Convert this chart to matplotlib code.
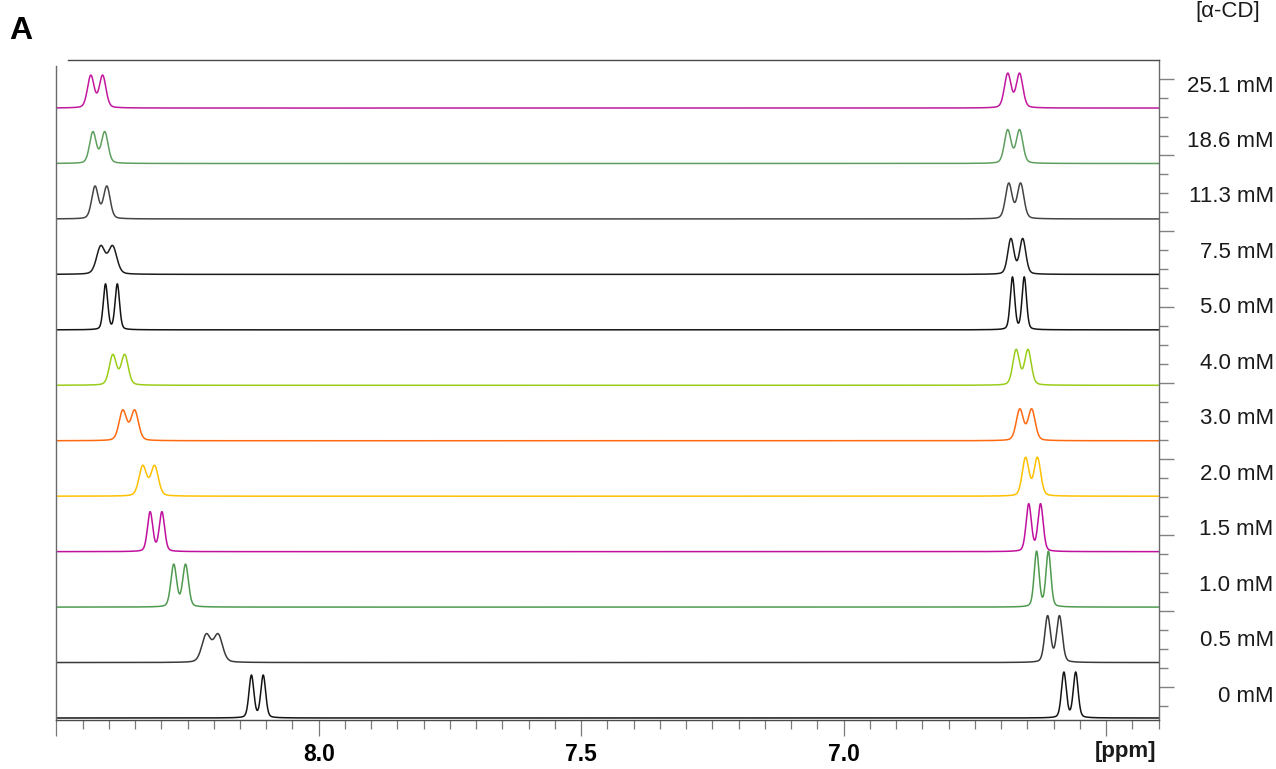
import numpy as np
import matplotlib
matplotlib.use("Agg")
import matplotlib.pyplot as plt
from matplotlib.ticker import FixedLocator

plt.rcParams['font.family'] = ['Liberation Sans', 'DejaVu Sans']

# ---- data (bottom spectrum first) ----
concentrations = ['0 mM', '0.5 mM', '1.0 mM', '1.5 mM', '2.0 mM', '3.0 mM',
                  '4.0 mM', '5.0 mM', '7.5 mM', '11.3 mM', '18.6 mM', '25.1 mM']
colors = ['#141414', '#3a3a3a', '#4f9a4f', '#c0109e', '#ffc000', '#ff6a10',
          '#9acd1a', '#141414', '#1c1c1c', '#454545', '#5f9f5f', '#c2189f']
# doublet centres (ppm)
left_centers = [8.117, 8.203, 8.265, 8.310, 8.324, 8.362, 8.381, 8.395, 8.404, 8.415, 8.419, 8.423]
right_centers = [6.569, 6.600, 6.621, 6.636, 6.642, 6.653, 6.660, 6.667, 6.670, 6.674, 6.676, 6.676]
# apparent peak heights (intensity units)
left_heights = [43, 29, 43, 40, 31, 31, 31, 46, 29, 33, 32, 33]
right_heights = [46, 47, 56, 48, 39, 32, 36, 53, 36, 36, 34, 35]
# line widths at half height (ppm)
left_fwhm = [0.011, 0.020, 0.013, 0.012, 0.017, 0.017, 0.016, 0.010, 0.019, 0.015, 0.015, 0.015]
right_fwhm = [0.011, 0.013, 0.011, 0.012, 0.015, 0.016, 0.015, 0.010, 0.014, 0.015, 0.015, 0.015]
coupling = 0.0225  # doublet splitting (ppm)

xtick_values = [8.5, 8.0, 7.5, 7.0, 6.5]
xtick_labels = ['', '8.0', '7.5', '7.0', '']

# ---- figure ----
W, H = 1276, 769
fig = plt.figure(figsize=(W / 100, H / 100), dpi=100)
ax_l, ax_r, ax_t, ax_b = 56.3, 1158.5, 60, 720
ax = fig.add_axes([ax_l / W, 1 - ax_b / H, (ax_r - ax_l) / W, (ax_b - ax_t) / H])

ppm = np.linspace(8.5, 6.4, 9000)
spacing = 55.45
base0 = 2.0
eta = 0.25  # Lorentzian fraction of the line shape


def line(c, fwhm):
    sig = fwhm / 2.3548
    gam = fwhm / 2
    g = np.exp(-0.5 * ((ppm - c) / sig) ** 2)
    lz = 1 / (1 + ((ppm - c) / gam) ** 2)
    return (1 - eta) * g + eta * lz


def doublet(center, height, fwhm):
    out = line(center + coupling / 2, fwhm) + line(center - coupling / 2, fwhm)
    return out * height / out.max()


for i, lab in enumerate(concentrations):
    base = base0 + spacing * i
    y = (base + doublet(left_centers[i], left_heights[i], left_fwhm[i])
         + doublet(right_centers[i], right_heights[i], right_fwhm[i]))
    ax.plot(ppm, y, color=colors[i], lw=1.1, solid_joinstyle='round')
    ax.text(1.1045, base + 22, lab, transform=ax.get_yaxis_transform(),
            ha='right', va='center', fontsize=16, color='#1a1a1a')

ax.set_xlim(8.5, 6.4)
ax.set_ylim(0, ax_b - ax_t)

spine_col = '#4a4a4a'
for s in ax.spines.values():
    s.set_color(spine_col)
    s.set_linewidth(1.0)
ax.spines['left'].set_color('#6a6a6a')
ax.spines['right'].set_color('#6a6a6a')
ax.spines['top'].set_bounds(8.478, 6.4)
ax.spines['left'].set_bounds(0, (ax_b - ax_t) - 6)

# x ticks
ax.xaxis.set_major_locator(FixedLocator(xtick_values))
ax.set_xticklabels(xtick_labels)
ax.xaxis.set_minor_locator(FixedLocator(np.arange(6.4, 8.501, 0.05)))
ax.tick_params(axis='x', which='major', length=11.5, width=0.9, color='#7a7a7a',
               direction='out', pad=5, labelsize=16.5)
ax.tick_params(axis='x', which='minor', length=6.5, width=0.9, color='#7a7a7a', direction='out')
for t in ax.get_xticklabels():
    t.set_fontweight('bold')
ax.text(6.463, 1 - (752 - ax_t) / (ax_b - ax_t), '[ppm]', transform=ax.get_xaxis_transform(),
        ha='center', va='center', fontsize=16, fontweight='bold', color='#1a1a1a')

# right intensity ticks
ax.yaxis.tick_right()
ax.yaxis.set_major_locator(FixedLocator(np.arange(33, 642, 76)))
ax.yaxis.set_minor_locator(FixedLocator(np.arange(14, 642, 19)))
ax.tick_params(axis='y', which='major', length=11, width=1.0, color='#808080',
               direction='out', labelright=False, labelleft=False)
ax.tick_params(axis='y', which='minor', length=6.5, width=1.0, color='#808080', direction='out')

fig.text(21 / W, 1 - 31 / H, 'A', fontsize=23, fontweight='bold', ha='center', va='center')
fig.text(1228 / W, 1 - 12 / H, '[α-CD]', fontsize=16, ha='center', va='center', color='#1a1a1a')

fig.savefig('out.png', dpi=100)
